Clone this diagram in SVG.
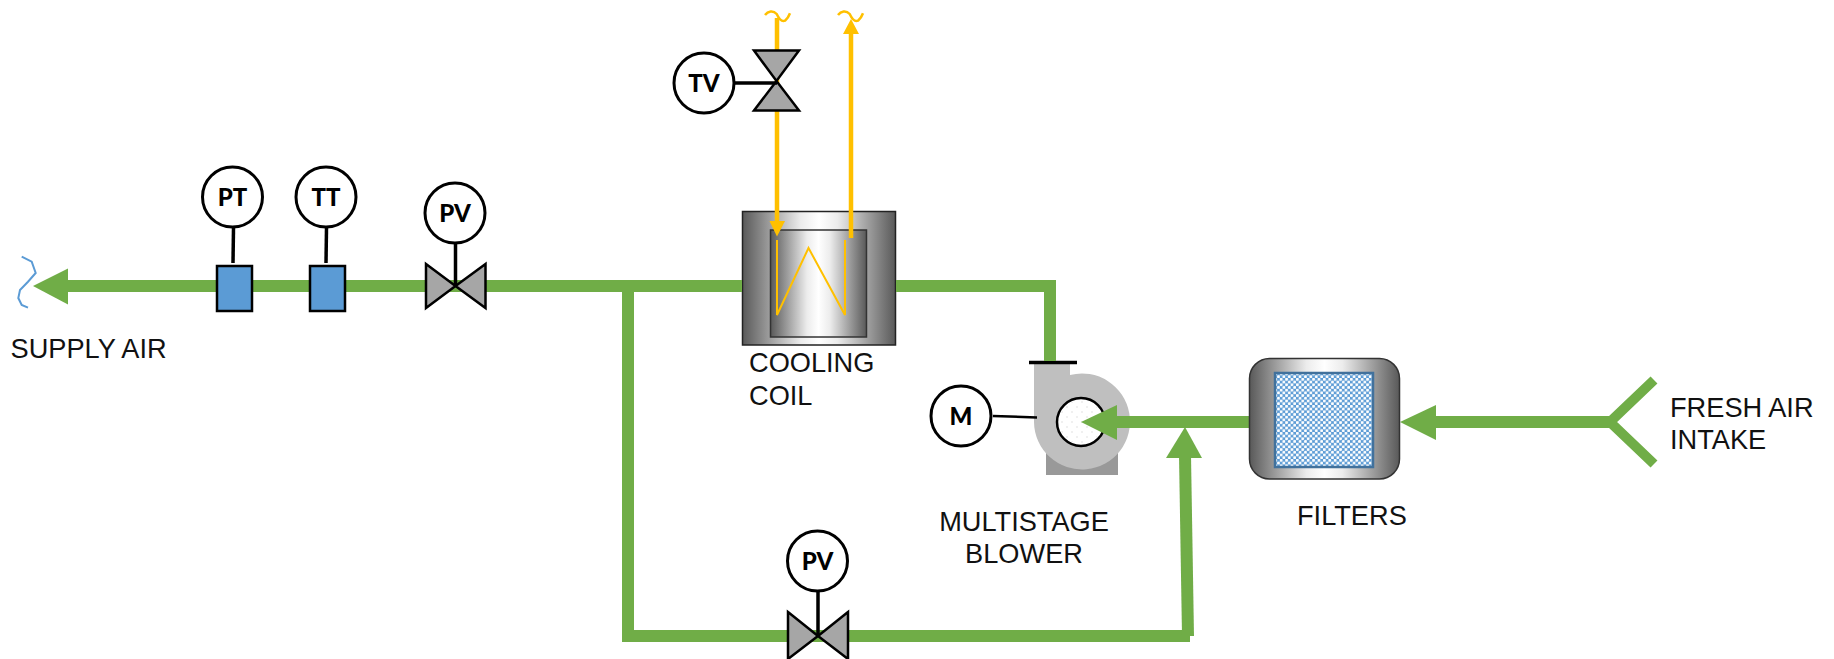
<svg xmlns="http://www.w3.org/2000/svg" width="1834" height="659" viewBox="0 0 1834 659">
<style>
.lbl{font-family:"Liberation Sans",Arial,sans-serif;font-size:27.2px;fill:#111}
.tag{font-family:Lato,"Open Sans",sans-serif;font-weight:900;font-size:24px;fill:#000;text-anchor:middle}
.inst{fill:#fff;stroke:#000;stroke-width:3}
.lead{stroke:#000;stroke-width:3.500;fill:none}
.air{stroke:#70ad47;stroke-width:12;fill:none}
.airhead{fill:#70ad47}
.water{stroke:#ffc000;stroke-width:4.500;fill:none}
.valve{fill:#a6a6a6;stroke:#000;stroke-width:2.500;stroke-linejoin:miter}
.tx{fill:#5b9bd5;stroke:#000;stroke-width:2.500}
</style>
<defs>
<linearGradient id="metal" x1="0" y1="0" x2="1" y2="0">
<stop offset="0" stop-color="#595959"/><stop offset="0.38" stop-color="#ececec"/><stop offset="0.5" stop-color="#fff"/><stop offset="0.62" stop-color="#ececec"/><stop offset="1" stop-color="#595959"/>
</linearGradient>
<pattern id="mesh" width="5.400" height="5.400" patternUnits="userSpaceOnUse">
<rect width="5.400" height="5.400" fill="#5b9bd5"/>
<circle cx="1.350" cy="1.350" r="1.500" fill="#fff"/><circle cx="4.050" cy="4.050" r="1.500" fill="#fff"/>
</pattern>
<pattern id="dots" width="10" height="10" patternUnits="userSpaceOnUse">
<circle cx="2" cy="2" r="0.800" fill="#ddd"/><circle cx="7" cy="7" r="0.800" fill="#ddd"/>
</pattern>
</defs>

<g id="cooling-coil">
<rect x="742.500" y="211.500" width="153" height="133.500" fill="url(#metal)" stroke="#222" stroke-width="1.500"/>
<rect x="770.500" y="230" width="96" height="107" fill="url(#metal)" stroke="#333" stroke-width="1.500"/>
<path d="M777 240V315L808.500 248L845 315V240" fill="none" stroke="#ffc000" stroke-width="2"/>
<text class="lbl" x="749" y="372">COOLING</text><text class="lbl" x="749" y="405">COIL</text>
</g>

<g id="blower">
<rect x="1046" y="440" width="72" height="35" fill="#999"/>
<path d="M1034 364H1070V375A48 48 0 1 1 1034 422Z" fill="#bfbfbf"/>
<path d="M1029 362.500H1077" stroke="#000" stroke-width="3.500"/>
<circle cx="1081" cy="422" r="24" fill="#fff" stroke="#000" stroke-width="2.500"/>
<circle cx="1081" cy="422" r="22" fill="url(#dots)"/>
<circle class="inst" cx="961" cy="416" r="30"/><text class="tag" x="961" y="424.500">M</text>
<path d="M993 416L1037 417.500" stroke="#000" stroke-width="2.500"/>
<text class="lbl" x="1024" y="531" text-anchor="middle">MULTISTAGE</text><text class="lbl" x="1024" y="563" text-anchor="middle">BLOWER</text>
</g>

<g id="connectors">
<path class="air" d="M67 286H742"/>
<path class="airhead" d="M33 286L68 268.500V304.500Z"/>
<path class="air" d="M628 286V636H1190"/>
<path class="air" d="M896 286H1050V361"/>
<path class="air" d="M1188 636L1185 455"/>
<path class="airhead" d="M1185 427L1202 458H1166Z"/>
<path class="air" d="M1115 422H1250"/>
<path class="airhead" d="M1081 422L1117 405V440Z"/>
<path class="air" d="M1430 422H1610"/>
<path class="airhead" d="M1400 422L1436 405V440Z"/>
<path d="M1654 380L1610 422L1654 464" fill="none" stroke="#70ad47" stroke-width="10"/>
<path d="M21.700 256.700L31.700 261.700L35.700 273L28 281.700L20 290L18.300 298L21.700 305L28 307.700" fill="none" stroke="#5b9bd5" stroke-width="2"/>
<path class="water" d="M777 18V225"/>
<path class="water" d="M851 238V30"/>
<path d="M765 15C768 11 773 10 776.700 14C779 19 782 22 785 20.700C787 19 789 16 790 13.300" fill="none" stroke="#ffc000" stroke-width="2.500"/>
<path d="M838 15C841 11 846 10 849.700 14C852 19 855 22 858 20.700C860 19 862 16 863 13.300" fill="none" stroke="#ffc000" stroke-width="2.500"/>
<path d="M851 19L859 34H843Z" fill="#ffc000"/>
<path d="M777 236.500L769.500 221H785Z" fill="#ffc000"/>
</g>

<g id="pt"><rect class="tx" x="217" y="266" width="35" height="45"/><path class="lead" d="M233.500 228L233 263"/><circle class="inst" cx="232.500" cy="197" r="30"/><text class="tag" x="232.500" y="205.500">PT</text></g>
<g id="tt"><rect class="tx" x="310" y="266" width="35" height="45"/><path class="lead" d="M326.500 228L326 263"/><circle class="inst" cx="326" cy="197" r="30"/><text class="tag" x="326" y="205.500">TT</text></g>
<g id="pv1"><path class="valve" d="M426 264L455.500 286L426 308ZM485.500 264L455.500 286L485.500 308Z"/><path class="lead" d="M455.500 243V286"/><circle class="inst" cx="455" cy="213" r="30"/><text class="tag" x="455" y="221.500">PV</text></g>
<g id="pv2"><path class="valve" d="M788 612L818 636L788 659ZM848 612L818 636L848 659Z"/><path class="lead" d="M818 591V636"/><circle class="inst" cx="817.500" cy="561" r="30"/><text class="tag" x="817.500" y="569.500">PV</text></g>
<g id="tv"><path class="valve" d="M754 50.500H799L776.500 81ZM754 110.500H799L776.500 81Z"/><path class="lead" d="M735 83H777"/><circle class="inst" cx="704" cy="83" r="30"/><text class="tag" x="704" y="91.500">TV</text></g>

<g id="filters">
<rect x="1249.500" y="358.500" width="150" height="120.500" rx="20" fill="url(#metal)" stroke="#333" stroke-width="1.500"/>
<rect x="1275" y="373" width="98" height="94" fill="url(#mesh)" stroke="#41719c" stroke-width="2.500"/>
<text class="lbl" x="1297" y="525">FILTERS</text>
</g>

<g id="supply-air"><text class="lbl" x="10.500" y="358">SUPPLY AIR</text></g>
<g id="fresh-air"><text class="lbl" x="1670" y="417">FRESH AIR</text><text class="lbl" x="1670" y="449">INTAKE</text></g>
</svg>
